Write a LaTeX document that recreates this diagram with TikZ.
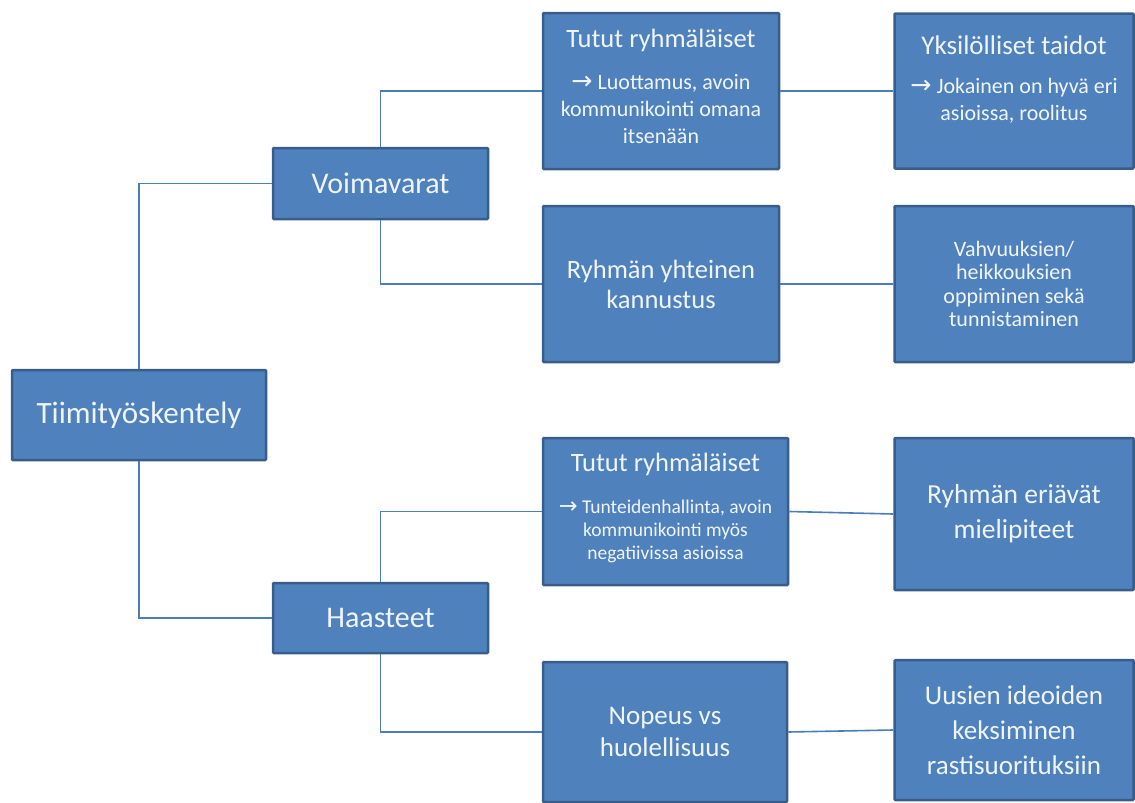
\documentclass[tikz,border=0pt]{standalone}
\usepackage{fontspec}
\setmainfont{Carlito}
\newfontfamily\arrowfont{DejaVu Sans}
\usetikzlibrary{positioning}
\definecolor{boxfill}{RGB}{79,129,189}
\definecolor{boxline}{RGB}{56,93,138}
\definecolor{linkcol}{RGB}{74,126,187}
\definecolor{boxtext}{RGB}{240,245,252}
\newcommand{\toarrow}{{\arrowfont\fontsize{1.15em}{1em}\selectfont\char"2192}}
\newcommand{\titlesize}{\fontsize{26.5}{30}\selectfont}

\begin{document}
\begin{tikzpicture}[
    x=1pt, y=-1pt,
    box/.style={draw=boxline, line width=2.5pt, fill=boxfill, text=boxtext, align=center, inner sep=2pt, rounded corners=1pt},
    link/.style={draw=linkcol, line width=1.6pt},
    node distance=0pt
]
    \useasboundingbox (0,0) rectangle (1135,803);

    \node[box, minimum width=254pt, minimum height=90pt, font=\fontsize{31}{37}\selectfont] (root) at (139,415) {Tiimityöskentely};

    \node[box, minimum width=215pt, minimum height=71pt, font=\fontsize{30}{36}\selectfont] (voima) at (380.5,183.5) {Voimavarat};
    \node[box, minimum width=215pt, minimum height=70pt, font=\fontsize{30}{36}\selectfont] (haasteet) at (380.5,618) {Haasteet};

    \node[box, minimum width=236pt, minimum height=156pt, font=\fontsize{22}{27}\selectfont, text depth=10pt] (tutut1) at (661,91) {
        {\titlesize Tutut ryhmäläiset}\\[15pt]
        \toarrow{} Luottamus, avoin\\ kommunikointi omana\\ itsenään
    };
    \node[box, minimum width=236pt, minimum height=156pt, font=\fontsize{26.5}{30}\selectfont] (kannustus) at (661,284) {
        Ryhmän yhteinen\\ kannustus
    };
    \node[box, minimum width=245pt, minimum height=147pt, font=\fontsize{19.5}{23}\selectfont, text depth=10pt] (tutut2) at (665.5,511.5) {
        {\titlesize Tutut ryhmäläiset}\\[19pt]
        \toarrow{} Tunteidenhallinta, avoin\\ kommunikointi myös\\ negatiivissa asioissa
    };
    \node[box, minimum width=244pt, minimum height=140pt, font=\fontsize{27}{32}\selectfont] (nopeus) at (665,732) {
        Nopeus vs\\ huolellisuus
    };

    \node[box, minimum width=239pt, minimum height=155pt, font=\fontsize{22}{27}\selectfont, text depth=26pt, right=113pt of tutut1] (yks) {
        {\fontsize{27}{31}\selectfont Yksilölliset taidot}\\[12pt]
        \toarrow{} Jokainen on hyvä eri\\ asioissa, roolitus
    };
    \node[box, minimum width=239pt, minimum height=156pt, font=\fontsize{22}{23.5}\selectfont, text depth=0pt, right=113pt of kannustus] (vahv) {
        Vahvuuksien/\\ heikkouksien\\ oppiminen sekä\\ tunnistaminen
    };
    \node[box, minimum width=239pt, minimum height=152pt, font=\fontsize{27.5}{35}\selectfont, right=104pt of tutut2, yshift=-2.5pt] (eriavat) {
        Ryhmän eriävät\\ mielipiteet
    };
    \node[box, minimum width=239pt, minimum height=140pt, font=\fontsize{27}{35}\selectfont, right=105pt of nopeus, yshift=2pt] (uusien) {
        Uusien ideoiden\\ keksiminen\\ rastisuorituksiin
    };

    \draw[link] (root.north) |- (voima.west);
    \draw[link] (root.south) |- (haasteet.west);
    \draw[link] (voima.north) |- (tutut1.west);
    \draw[link] (voima.south) |- (kannustus.west);
    \draw[link] (haasteet.north) |- (tutut2.west);
    \draw[link] (haasteet.south) |- (nopeus.west);
    \draw[link] (tutut1.east) -- (yks.west);
    \draw[link] (kannustus.east) -- (vahv.west);
    \draw[link] (tutut2.east) -- (eriavat.west);
    \draw[link] (nopeus.east) -- (uusien.west);
\end{tikzpicture}
\end{document}
